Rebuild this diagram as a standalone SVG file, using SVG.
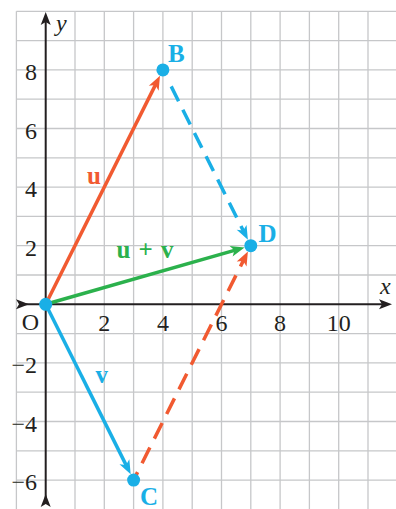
<svg xmlns="http://www.w3.org/2000/svg" width="396" height="509" viewBox="0 0 396 509">
<style>
.grid line{stroke:#c6c7c9;stroke-width:1.3}
.axis{stroke:#231f20;stroke-width:2;fill:none}
.tick{font-family:"Liberation Serif","Times New Roman",serif;font-size:24px;fill:#231f20}
.ty{text-anchor:end}
.tx{text-anchor:middle}
.it{font-family:"Liberation Serif","Times New Roman",serif;font-size:24px;font-style:italic;fill:#231f20}
.lbl{font-family:"Liberation Serif","Times New Roman",serif;font-size:25px;font-weight:bold}
.cy{fill:#1aafe6}
.or{fill:#f15a31}
.gr{fill:#2bb14c}
.vec{fill:none;stroke-width:3.5}
.dash{fill:none;stroke-width:3.5}
</style>
<defs>
<marker id="ah-k" viewBox="-10 -10 20 20" refX="0" refY="0" markerWidth="20" markerHeight="20" markerUnits="userSpaceOnUse" orient="auto" overflow="visible"><path d="M6,0 L-7,-5 L-4,0 L-7,5 Z" fill="#231f20"/></marker>
<marker id="ah-o" viewBox="-10 -10 20 20" refX="0" refY="0" markerWidth="20" markerHeight="20" markerUnits="userSpaceOnUse" orient="auto" overflow="visible"><path d="M6,0 L-8,-5.5 L-4.5,0 L-8,5.5 Z" fill="#f15a31"/></marker>
<marker id="ah-c" viewBox="-10 -10 20 20" refX="0" refY="0" markerWidth="20" markerHeight="20" markerUnits="userSpaceOnUse" orient="auto" overflow="visible"><path d="M6,0 L-8,-5.5 L-4.5,0 L-8,5.5 Z" fill="#1aafe6"/></marker>
<marker id="ah-g" viewBox="-10 -10 20 20" refX="0" refY="0" markerWidth="20" markerHeight="20" markerUnits="userSpaceOnUse" orient="auto" overflow="visible"><path d="M6,0 L-8,-5.5 L-4.5,0 L-8,5.5 Z" fill="#2bb14c"/></marker>
</defs>
<rect width="396" height="509" fill="#ffffff"/>
<g id="grid" class="grid">
<line x1="16.4" y1="11.3" x2="16.4" y2="509"/>
<line x1="75" y1="11.3" x2="75" y2="509"/>
<line x1="104.3" y1="11.3" x2="104.3" y2="509"/>
<line x1="133.6" y1="11.3" x2="133.6" y2="509"/>
<line x1="162.9" y1="11.3" x2="162.9" y2="509"/>
<line x1="192.2" y1="11.3" x2="192.2" y2="509"/>
<line x1="221.5" y1="11.3" x2="221.5" y2="509"/>
<line x1="250.8" y1="11.3" x2="250.8" y2="509"/>
<line x1="280.1" y1="11.3" x2="280.1" y2="509"/>
<line x1="309.4" y1="11.3" x2="309.4" y2="509"/>
<line x1="338.7" y1="11.3" x2="338.7" y2="509"/>
<line x1="368" y1="11.3" x2="368" y2="509"/>
<line x1="16.4" y1="11.3" x2="396" y2="11.3"/>
<line x1="16.4" y1="40.6" x2="396" y2="40.6"/>
<line x1="16.4" y1="69.9" x2="396" y2="69.9"/>
<line x1="16.4" y1="99.2" x2="396" y2="99.2"/>
<line x1="16.4" y1="128.5" x2="396" y2="128.5"/>
<line x1="16.4" y1="157.8" x2="396" y2="157.8"/>
<line x1="16.4" y1="187.1" x2="396" y2="187.1"/>
<line x1="16.4" y1="216.4" x2="396" y2="216.4"/>
<line x1="16.4" y1="245.7" x2="396" y2="245.7"/>
<line x1="16.4" y1="275" x2="396" y2="275"/>
<line x1="16.4" y1="333.6" x2="396" y2="333.6"/>
<line x1="16.4" y1="362.9" x2="396" y2="362.9"/>
<line x1="16.4" y1="392.2" x2="396" y2="392.2"/>
<line x1="16.4" y1="421.5" x2="396" y2="421.5"/>
<line x1="16.4" y1="450.8" x2="396" y2="450.8"/>
<line x1="16.4" y1="480.1" x2="396" y2="480.1"/>
</g>
<g id="axes">
<line class="axis" x1="45.7" y1="500" x2="45.7" y2="18" marker-start="url(#ah-k)" marker-end="url(#ah-k)"/>
<line class="axis" x1="23" y1="304.3" x2="386" y2="304.3" marker-start="url(#ah-k)" marker-end="url(#ah-k)"/>
<text class="it" x="56" y="30.5">y</text>
<text class="it" x="380" y="294">x</text>
<text class="tick ty" x="37" y="80">8</text>
<text class="tick ty" x="37" y="138.5">6</text>
<text class="tick ty" x="37" y="197">4</text>
<text class="tick ty" x="37" y="255.7">2</text>
<text class="tick ty" x="37" y="372.9">−2</text>
<text class="tick ty" x="37" y="431.5">−4</text>
<text class="tick ty" x="37" y="490">−6</text>
<text class="tick tx" x="104.3" y="331">2</text>
<text class="tick tx" x="162.9" y="331">4</text>
<text class="tick tx" x="221.5" y="331">6</text>
<text class="tick tx" x="280.1" y="331">8</text>
<text class="tick tx" x="338.7" y="331">10</text>
</g>
<g id="connectors">
<path class="dash" d="M171.2,86.4 L245.2,234.5" stroke="#1aafe6" stroke-dasharray="16.5 9.5" marker-end="url(#ah-c)"/>
<path class="dash" d="M133.6,480.1 L245.2,256.9" stroke="#f15a31" stroke-dasharray="17.5 10" stroke-dashoffset="8.6" marker-end="url(#ah-o)"/>
<path id="vec-u" class="vec" d="M45.7,304.3 L157.3,81.1" stroke="#f15a31" marker-end="url(#ah-o)"/>
<path id="vec-v" class="vec" d="M45.7,304.3 L128,468.9" stroke="#1aafe6" marker-end="url(#ah-c)"/>
<path id="vec-uv" class="vec" d="M45.7,304.3 L238.8,249.1" stroke="#2bb14c" marker-end="url(#ah-g)"/>
<text class="lbl or" x="87" y="184">u</text>
<text class="lbl cy" x="95.5" y="383">v</text>
<text class="lbl gr" x="116.5" y="258" textLength="57" lengthAdjust="spacing">u + v</text>
</g>
<g id="node-O">
<circle cx="45.7" cy="304.3" r="6.5" fill="#1aafe6"/>
<text class="tick tx" x="30.5" y="329.5">O</text>
</g>
<g id="node-B">
<circle cx="162.9" cy="69.9" r="6.5" fill="#1aafe6"/>
<text class="lbl cy" x="168" y="61.5">B</text>
</g>
<g id="node-D">
<circle cx="250.8" cy="245.7" r="6.5" fill="#1aafe6"/>
<text class="lbl cy" x="258.5" y="241.7">D</text>
</g>
<g id="node-C">
<circle cx="133.6" cy="480.1" r="6.5" fill="#1aafe6"/>
<text class="lbl cy" x="140" y="505">C</text>
</g>
</svg>
